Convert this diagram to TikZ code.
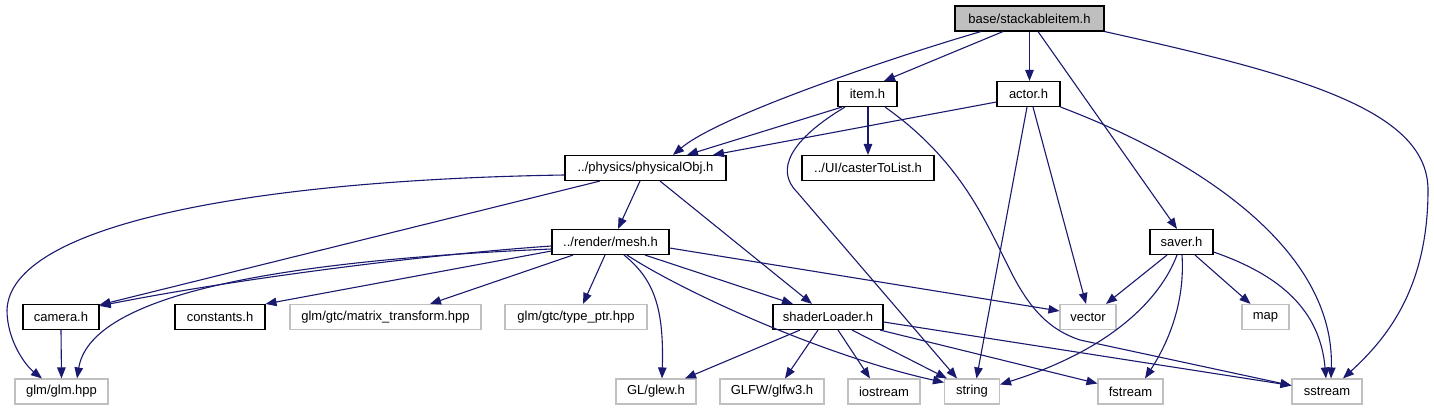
\documentclass[tikz,border=0pt]{standalone}
\usepackage{fontspec}
\setmainfont{Liberation Sans}
\usetikzlibrary{arrows.meta}

\begin{document}
\begin{tikzpicture}[
    x=1pt, y=-1pt,
    file/.style={
        draw=black, fill=white, line width=1.1pt, minimum height=25pt,
        inner sep=0pt, font=\fontsize{13}{15}\selectfont
    },
    sysfile/.style={file, draw=colSys},
    topfile/.style={file, fill=colTop},
    dep/.style={draw=colEdge, line width=1.1pt, -{Triangle[length=11pt, width=8.5pt]}}
]

% ============================
% COLOR DEFINITIONS
% ============================
\definecolor{colEdge}{HTML}{191970}   % midnight blue
\definecolor{colSys}{HTML}{C0C0C0}    % grey border
\definecolor{colTop}{HTML}{BFBFBF}    % grey fill

\fill[white] (0,0) rectangle (1434,411);
\useasboundingbox (0,0) rectangle (1434,411);

% ============================
% ROW 1-4: project headers
% ============================
\node[topfile, minimum width=149pt] (stackable) at (1029.5,18.5) {base/stackableitem.h};

\node[file, minimum width=59pt]  (item)    at (867.5,94)  {item.h};
\node[file, minimum width=63pt]  (actor)   at (1028.5,94) {actor.h};

\node[file, minimum width=161pt] (physobj) at (645.5,168) {../physics/physicalObj.h};
\node[file, minimum width=132pt] (caster)  at (868,168)   {../UI/casterToList.h};

\node[file, minimum width=117pt] (mesh)    at (610.5,242)  {../render/mesh.h};
\node[file, minimum width=63pt]  (saver)   at (1181.5,242) {saver.h};

% ============================
% ROW 5 (y=317)
% ============================
\node[file, minimum width=76pt]     (camera)    at (61,317)     {camera.h};
\node[file, minimum width=90pt]     (constants) at (220,317)    {constants.h};
\node[sysfile, minimum width=191pt] (matrix)    at (385.5,317)  {glm/gtc/matrix\_transform.hpp};
\node[sysfile, minimum width=142pt] (typeptr)   at (576,317)    {glm/gtc/type\_ptr.hpp};
\node[file, minimum width=110pt]    (shader)    at (828,317)    {shaderLoader.h};
\node[sysfile, minimum width=56pt]  (vector)    at (1088,317)   {vector};
\node[sysfile, minimum width=47pt]  (map)       at (1265.5,317) {map};

% ============================
% ROW 6 (y=391.5): system headers
% ============================
\node[sysfile, minimum width=93pt]  (glm)      at (61.5,391.5)   {glm/glm.hpp};
\node[sysfile, minimum width=80pt]  (glew)     at (656,391.5)    {GL/glew.h};
\node[sysfile, minimum width=104pt] (glfw)     at (772,391.5)    {GLFW/glfw3.h};
\node[sysfile, minimum width=72pt]  (iostream) at (884,391.5)    {iostream};
\node[sysfile, minimum width=55pt]  (string)   at (972,391.5)    {string};
\node[sysfile, minimum width=65pt]  (fstream)  at (1130.5,391.5) {fstream};
\node[sysfile, minimum width=70pt]  (sstream)  at (1327,391.5)   {sstream};

% ============================
% EDGES
% ============================

% --- base/stackableitem.h ---
\draw[dep] ([xshift=-48.5pt]stackable.south) .. controls (900,55) and (720,115) .. ([xshift=27.5pt]physobj.north);
\draw[dep] ([xshift=-26.5pt]stackable.south) -- ([xshift=16.5pt]item.north);
\draw[dep] (stackable.south) -- ([xshift=1pt]actor.north);
\draw[dep] ([xshift=8.5pt]stackable.south) -- ([xshift=-4.5pt]saver.north);
\draw[dep] (stackable.south east) .. controls (1300,75) and (1428,110) .. (1428,190)
    .. controls (1428,290) and (1385,340) .. ([xshift=16pt]sstream.north);

% --- item.h ---
\draw[dep] ([xshift=-25.5pt]item.south) -- ([xshift=41.5pt]physobj.north);
\draw[dep] ([xshift=0.5pt]item.south) -- (caster.north);
\draw[dep] ([xshift=-22.5pt]item.south) .. controls (790,140) and (775,170) .. (797,192) -- ([xshift=-15pt]string.north);
\draw[dep] ([xshift=17.5pt]item.south) .. controls (960,160) and (985,220) .. (1010,270)
    .. controls (1030,310) and (1050,330) .. (1080,340) -- ([yshift=6pt]sstream.west);

% --- actor.h ---
\draw[dep] ([yshift=-8pt]actor.west) -- ([xshift=67.5pt]physobj.north);
\draw[dep] ([xshift=-1.5pt]actor.south) -- ([xshift=4.5pt]string.north);
\draw[dep] ([xshift=4.5pt]actor.south) -- ([xshift=-2pt]vector.north);
\draw[dep] (actor.south east) .. controls (1200,160) and (1335,250) .. ([xshift=4pt]sstream.north);

% --- ../physics/physicalObj.h ---
\draw[dep] ([yshift=-7pt]physobj.west) .. controls (250,180) and (10,225) .. (7,310)
    .. controls (7,340) and (25,365) .. ([xshift=-19.5pt]glm.north);
\draw[dep] ([xshift=-45.5pt]physobj.south) -- ([yshift=-1pt]camera.north east);
\draw[dep] ([xshift=-5.5pt]physobj.south) -- ([xshift=7.5pt]mesh.north);
\draw[dep] ([xshift=14.5pt]physobj.south) -- ([xshift=-16pt]shader.north);

% --- ../render/mesh.h ---
\draw[dep] ([yshift=-4pt]mesh.west) .. controls (420,255) and (230,280) .. ([yshift=-2pt]camera.north east);
\draw[dep] ([yshift=-7pt]mesh.west) .. controls (250,262) and (90,300) .. ([xshift=15.5pt]glm.north);
\draw[dep] ([yshift=-9pt]mesh.west) -- (constants.north east);
\draw[dep] ([xshift=-37.5pt]mesh.south) -- ([xshift=44.5pt]matrix.north);
\draw[dep] ([xshift=-5.5pt]mesh.south) -- ([xshift=7pt]typeptr.north);
\draw[dep] ([xshift=13.5pt]mesh.south) .. controls (655,280) and (664,310) .. ([xshift=6pt]glew.north);
\draw[dep] ([xshift=16.5pt]mesh.south) .. controls (680,290) and (820,355) .. ([yshift=-4pt]string.north west);
\draw[dep] ([xshift=34.5pt]mesh.south) -- ([xshift=-35pt]shader.north);
\draw[dep] ([yshift=-6pt]mesh.east) -- ([yshift=6pt]vector.west);

% --- camera.h ---
\draw[dep] (camera.south) -- (glm.north);

% --- shaderLoader.h ---
\draw[dep] ([xshift=-28pt]shader.south) -- ([xshift=29pt]glew.north);
\draw[dep] ([xshift=-10pt]shader.south) -- ([xshift=13pt]glfw.north);
\draw[dep] ([xshift=10pt]shader.south) -- ([xshift=-14pt]iostream.north);
\draw[dep] ([xshift=24pt]shader.south) -- ([xshift=3pt]string.north west);
\draw[dep] ([xshift=52pt]shader.south) -- ([yshift=8pt]fstream.west);
\draw[dep] ([yshift=-5pt]shader.east) -- ([yshift=6pt]sstream.west);

% --- saver.h ---
\draw[dep] ([xshift=-14.5pt]saver.south) -- ([xshift=18pt]vector.north);
\draw[dep] ([xshift=-4.5pt]saver.south) .. controls (1160,300) and (1110,350) .. ([yshift=7pt]string.east);
\draw[dep] ([xshift=0.5pt]saver.south) .. controls (1185,300) and (1170,340) .. ([xshift=14.5pt]fstream.north);
\draw[dep] ([xshift=13.5pt]saver.south) -- ([xshift=-15pt]map.north);
\draw[dep] ([yshift=-10pt]saver.east) .. controls (1280,275) and (1320,310) .. ([xshift=-1pt]sstream.north);

\end{tikzpicture}
\end{document}
